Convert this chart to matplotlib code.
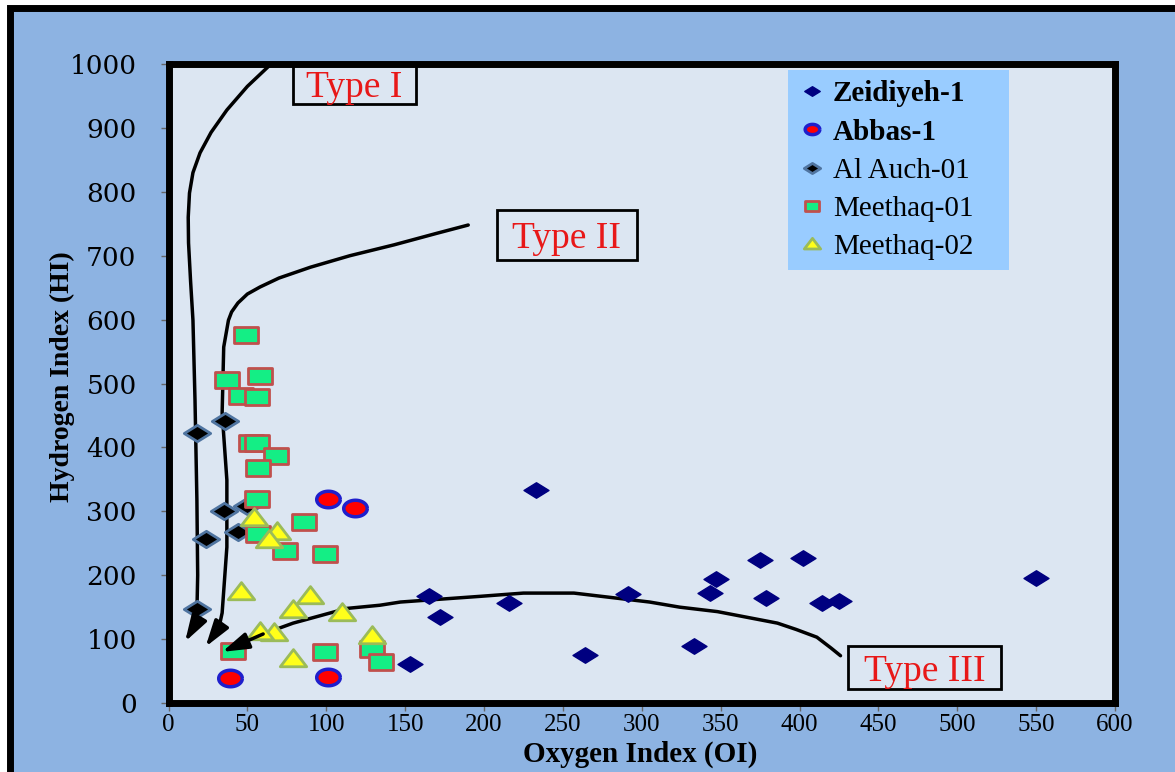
import matplotlib.pyplot as plt
import numpy as np
from matplotlib.path import Path
from matplotlib.patches import Rectangle

plt.rcParams['font.family'] = ['Liberation Serif', 'DejaVu Serif']

# ---- data (OI, HI) ----
zeid_oi = [153, 165, 172, 216, 233, 264, 291, 333, 343, 347, 375, 379, 402, 414, 425, 550]
zeid_hi = [61, 167, 135, 156, 333, 75, 170, 89, 172, 194, 224, 164, 227, 156, 160, 196]

abbas_oi = [101, 118, 39, 101]
abbas_hi = [319, 305, 39, 41]

auch_oi = [18, 36, 50, 35, 24, 44, 18]
auch_hi = [423, 441, 308, 300, 257, 268, 147]

meeth1_oi = [49, 58, 37, 46, 56, 52, 56, 68, 57, 56, 86, 57, 74, 99, 41, 99, 129, 135]
meeth1_hi = [576, 512, 505, 480, 479, 407, 407, 387, 368, 319, 283, 264, 238, 233, 81, 80, 85, 64]

meeth2_oi = [54, 69, 64, 46, 90, 79, 110, 67, 58, 129, 79]
meeth2_hi = [290, 268, 255, 174, 167, 146, 141, 109, 111, 105, 69]

# kerogen type guide curves (hand drawn on the original)
type1_oi = [65, 50, 37, 27, 20, 15.5, 13.3, 12.5, 12.7, 14, 15.5, 16.8, 18, 18.5, 18, 17.5]
type1_hi = [1000, 965, 928, 893, 861, 830, 798, 760, 720, 660, 599, 474, 318, 200, 141, 125]
type1_tip = (10.5, 96)

type2_oi = [190, 170, 143, 115, 90, 70, 58, 50, 44, 40, 38, 35, 34, 37, 37, 34, 32]
type2_hi = [748, 735, 717, 700, 682, 665, 651, 640, 626, 612, 599, 557, 454, 349, 244, 141, 118]
type2_tip = (23.5, 88)

type3_oi = [426, 420, 411, 398, 386, 348, 324, 305, 257, 225, 198, 147, 134, 113, 79, 60]
type3_hi = [74, 86, 103, 115, 125, 143, 150, 158, 172, 172, 167, 158, 153, 148, 125, 108]
type3_tip = (34, 80)

type_labels = ['Type I', 'Type II', 'Type III']
# label boxes: (oi_min, oi_max, hi_min, hi_max)
type_boxes = [(79, 157, 937, 1000), (208, 297, 693, 772), (431, 528, 22, 89)]

series_labels = ['Zeidiyeh-1', 'Abbas-1', 'Al Auch-01', 'Meethaq-01', 'Meethaq-02']

# ---- marker shapes ----
flat_diamond = Path([(-1, 0), (0, 0.62), (1, 0), (0, -0.62), (-1, 0)],
                    [Path.MOVETO, Path.LINETO, Path.LINETO, Path.LINETO, Path.CLOSEPOLY])
t = np.linspace(0, 2 * np.pi, 40)
ellipse = Path(np.column_stack([np.cos(t), 0.7 * np.sin(t)]))
rect = Path([(-1, -0.68), (1, -0.68), (1, 0.68), (-1, 0.68), (-1, -0.68)],
            [Path.MOVETO, Path.LINETO, Path.LINETO, Path.LINETO, Path.CLOSEPOLY])
tri = Path([(-1, -0.55), (1, -0.55), (0, 0.75), (-1, -0.55)],
           [Path.MOVETO, Path.LINETO, Path.LINETO, Path.CLOSEPOLY])

fig = plt.figure(figsize=(11.75, 7.72), dpi=100, facecolor='white')
# blue panel with black border along top and left
fig.add_artist(Rectangle((10 / 1175, -0.1), 1.2, 1.1 - 8 / 772,
                         transform=fig.transFigure, facecolor='#8DB3E2',
                         edgecolor='black', linewidth=5, zorder=0, clip_on=False))

ax = fig.add_axes([168.5 / 1175, 69 / 772, 946.5 / 1175, 639 / 772])
ax.set_facecolor('#DCE6F2')

for xs, ys, tip in [(type1_oi, type1_hi, type1_tip), (type2_oi, type2_hi, type2_tip),
                    (type3_oi, type3_hi, type3_tip)]:
    ax.plot(xs, ys, color='black', lw=2.5, zorder=2, solid_capstyle='round')
    ax.annotate('', xy=tip, xytext=(xs[-1], ys[-1]),
                arrowprops=dict(arrowstyle='-|>,head_length=0.8,head_width=0.25',
                                color='black', lw=2.5, shrinkA=0, shrinkB=0,
                                mutation_scale=20), zorder=7)

ax.plot(zeid_oi, zeid_hi, ls='none', marker=flat_diamond, ms=18, color='#000080',
        mec='#000080', label=series_labels[0], zorder=3)
ax.plot(abbas_oi, abbas_hi, ls='none', marker=ellipse, ms=17, mfc='#FF0000',
        mec='#1F1FCC', mew=2.5, label=series_labels[1], zorder=3)
ax.plot(auch_oi, auch_hi, ls='none', marker=flat_diamond, ms=19, mfc='black',
        mec='#4F74A0', mew=2, label=series_labels[2], zorder=3)
ax.plot(meeth1_oi, meeth1_hi, ls='none', marker=rect, ms=17, mfc='#14EE85',
        mec='#C0504D', mew=2, label=series_labels[3], zorder=4)
ax.plot(meeth2_oi, meeth2_hi, ls='none', marker=tri, ms=19, mfc='#FFFF1A',
        mec='#9BBB59', mew=2, label=series_labels[4], zorder=5)

for lab, (x0, x1, y0, y1) in zip(type_labels, type_boxes):
    ax.add_patch(Rectangle((x0, y0), x1 - x0, y1 - y0, fill=False, ec='black',
                           lw=2, zorder=6, clip_on=False))
    ax.text((x0 + x1) / 2, (y0 + y1) / 2, lab, color='#E81818', fontsize=27,
            ha='center', va='center_baseline', zorder=6)

ax.set_xlim(0, 600)
ax.set_ylim(0, 1000)
ax.set_xticks(np.arange(0, 601, 50))
ax.set_yticks(np.arange(0, 1001, 100))
ax.tick_params(length=6, width=1, color='#666666')
ax.tick_params(axis='x', labelsize=18, pad=2)
ax.tick_params(axis='y', labelsize=19, pad=17)
for lbl in ax.get_yticklabels():
    lbl.set_fontfamily(['DejaVu Serif'])
for s in ax.spines.values():
    s.set_linewidth(5)
    s.set_color('black')

ax.set_xlabel('Oxygen Index (OI)', fontsize=21, fontweight='bold')
ax.xaxis.set_label_coords(0.498, -0.059)
ax.set_ylabel('Hydrogen Index (HI)', fontsize=20, fontweight='bold')
ax.yaxis.set_label_coords(-0.099, 0.51)

leg = ax.legend(loc='upper left', bbox_to_anchor=(0.654, 0.690, 0.2335, 0.301),
                mode='expand', fontsize=21, frameon=True, fancybox=False,
                facecolor='#99CCFF', edgecolor='none', framealpha=1,
                markerscale=0.62, handlelength=1.0, handletextpad=0.2,
                labelspacing=0.4, borderpad=0.35, borderaxespad=0)
for txt in leg.get_texts()[:2]:
    txt.set_fontweight('bold')

fig.savefig('out.png', dpi=100)
